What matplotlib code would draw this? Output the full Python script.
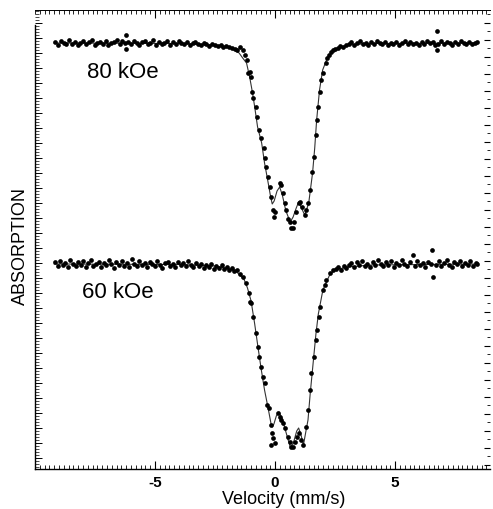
import matplotlib
matplotlib.use("Agg")
import matplotlib.pyplot as plt
from matplotlib.ticker import MultipleLocator

plt.rcParams['font.family'] = ['Liberation Sans', 'DejaVu Sans']
plt.rcParams['axes.unicode_minus'] = False

# ---------------------------------------------------------------
# 80 kOe spectrum: measured points (velocity mm/s, rel. transmission)
# ---------------------------------------------------------------
v80 = [
    -9.15, -9.04, -8.92, -8.81, -8.69, -8.57, -8.46, -8.34, -8.22, -8.11,
    -7.99, -7.87, -7.76, -7.64, -7.52, -7.41, -7.29, -7.17, -7.06, -6.94,
    -6.82, -6.71, -6.59, -6.47, -6.36, -6.24, -6.19, -6.19, -6.12, -6.01,
    -5.89, -5.77, -5.66, -5.54, -5.42, -5.31, -5.19, -5.07, -4.96, -4.84,
    -4.72, -4.61, -4.49, -4.37, -4.26, -4.14, -4.02, -3.91, -3.79, -3.67,
    -3.56, -3.44, -3.32, -3.21, -3.09, -2.97, -2.86, -2.74, -2.62, -2.51,
    -2.39, -2.27, -2.16, -2.04, -1.92, -1.81, -1.69, -1.58, -1.48, -1.35,
    -1.27, -1.19, -1.13, -1.06, -0.99, -0.95, -0.93, -0.81, -0.76, -0.68,
    -0.58, -0.48, -0.44, -0.37, -0.30, -0.23, -0.16, -0.09, -0.06, -0.02,
    0.19, 0.25, 0.33, 0.41, 0.47, 0.53, 0.63, 0.67, 0.73, 0.79,
    0.88, 0.99, 1.05, 1.13, 1.23, 1.30, 1.37, 1.44, 1.55, 1.60,
    1.69, 1.74, 1.80, 1.85, 1.93, 1.99, 2.10, 2.16, 2.23, 2.31,
    2.40, 2.48, 2.60, 2.72, 2.83, 2.95, 3.07, 3.18, 3.30, 3.42,
    3.53, 3.65, 3.77, 3.88, 4.00, 4.12, 4.23, 4.35, 4.47, 4.58,
    4.70, 4.82, 4.93, 5.05, 5.17, 5.28, 5.40, 5.52, 5.63, 5.75,
    5.87, 5.98, 6.10, 6.22, 6.33, 6.45, 6.57, 6.68, 6.73, 6.73,
    6.80, 6.92, 7.03, 7.15, 7.27, 7.38, 7.50, 7.62, 7.73, 7.85,
    7.97, 8.08, 8.20, 8.32, 8.40,
]
t80 = [
    1.001, 0.998, 1.002, 1.000, 0.999, 1.003, 0.999, 1.001, 0.998, 1.000,
    1.002, 0.999, 1.001, 1.003, 0.998, 1.000, 1.001, 0.999, 1.002, 0.998,
    1.000, 1.001, 1.003, 0.999, 1.002, 1.000, 1.008, 0.994, 1.001, 0.999,
    1.002, 1.000, 0.998, 1.001, 1.002, 0.999, 1.000, 1.003, 0.998, 1.001,
    0.999, 1.000, 1.002, 0.998, 1.001, 0.999, 1.002, 1.000, 0.999, 1.001,
    0.998, 1.000, 1.001, 0.999, 0.998, 1.000, 0.999, 0.997, 0.999, 0.998,
    0.997, 0.998, 0.996, 0.997, 0.996, 0.995, 0.994, 0.993, 0.996, 0.993,
    0.988, 0.983, 0.970, 0.971, 0.966, 0.951, 0.945, 0.936, 0.926, 0.913,
    0.905, 0.895, 0.885, 0.876, 0.866, 0.856, 0.846, 0.833, 0.826, 0.831,
    0.860, 0.858, 0.850, 0.840, 0.833, 0.824, 0.821, 0.815, 0.815, 0.821,
    0.831, 0.840, 0.841, 0.836, 0.828, 0.833, 0.840, 0.853, 0.871, 0.886,
    0.908, 0.923, 0.936, 0.951, 0.963, 0.970, 0.980, 0.985, 0.988, 0.991,
    0.993, 0.994, 0.995, 0.997, 0.996, 0.998, 0.999, 1.001, 0.998, 1.000,
    1.002, 0.999, 1.000, 0.998, 1.001, 0.999, 1.002, 1.000, 0.999, 1.001,
    0.998, 1.000, 0.999, 1.001, 0.998, 1.000, 1.002, 0.999, 1.001, 0.999,
    1.000, 0.998, 1.001, 0.999, 1.002, 1.000, 1.001, 0.998, 1.012, 0.993,
    0.999, 1.002, 0.999, 1.001, 1.000, 0.998, 1.001, 0.999, 1.002, 1.000,
    0.999, 1.001, 0.999, 1.000, 1.001,
]

# fitted curve, 80 kOe
fit80_v = [-9.20, -4.00, -2.50, -2.00, -1.70, -1.50, -1.35, -1.19, -1.06, -0.94,
           -0.85, -0.73, -0.56, -0.44, -0.31, -0.20, -0.12, -0.04, 0.08, 0.19,
           0.30, 0.45, 0.63, 0.75, 0.88, 0.98, 1.10, 1.23, 1.32, 1.40,
           1.48, 1.56, 1.65, 1.73, 1.85, 1.98, 2.19, 2.48, 2.98, 4.00, 8.45]
fit80_t = [1.000, 0.9995, 0.998, 0.996, 0.993, 0.990, 0.985, 0.980, 0.966, 0.950,
           0.936, 0.916, 0.900, 0.880, 0.863, 0.848, 0.839, 0.842, 0.852, 0.856,
           0.848, 0.832, 0.821, 0.826, 0.835, 0.841, 0.835, 0.828, 0.834, 0.840,
           0.855, 0.870, 0.895, 0.923, 0.953, 0.973, 0.986, 0.993, 0.998, 0.9995, 1.000]

# ---------------------------------------------------------------
# 60 kOe spectrum
# ---------------------------------------------------------------
v60 = [
    -9.15, -9.06, -8.95, -8.85, -8.74, -8.63, -8.53, -8.42, -8.31, -8.21,
    -8.10, -7.99, -7.89, -7.78, -7.67, -7.57, -7.46, -7.35, -7.25, -7.14,
    -7.03, -6.93, -6.82, -6.71, -6.61, -6.50, -6.39, -6.29, -6.18, -6.07,
    -5.97, -5.86, -5.75, -5.65, -5.54, -5.43, -5.33, -5.22, -5.11, -5.01,
    -4.90, -4.79, -4.69, -4.58, -4.47, -4.37, -4.26, -4.15, -4.05, -3.94,
    -3.83, -3.73, -3.62, -3.51, -3.41, -3.30, -3.19, -3.09, -2.98, -2.87,
    -2.77, -2.66, -2.55, -2.45, -2.34, -2.23, -2.13, -2.02, -1.91, -1.81,
    -1.70, -1.59, -1.48, -1.34, -1.20, -1.09, -1.03, -0.99, -0.93, -0.78,
    -0.72, -0.65, -0.58, -0.51, -0.44, -0.32, -0.26, -0.16, -0.12, -0.09,
    -0.02, -0.16, 0.12, 0.19, 0.26, 0.33, 0.40, 0.53, 0.60, 0.67,
    0.74, 0.81, 0.91, 0.99, 1.09, 1.16, 1.27, 1.37, 1.44, 1.51,
    1.60, 1.69, 1.74, 1.83, 1.88, 1.99, 2.06, 2.13, 2.27, 2.40,
    2.52, 2.63, 2.74, 2.85, 2.96, 3.07, 3.18, 3.29, 3.40, 3.51,
    3.62, 3.73, 3.84, 3.95, 4.06, 4.17, 4.28, 4.39, 4.50, 4.61,
    4.72, 4.83, 4.94, 5.05, 5.16, 5.27, 5.38, 5.49, 5.60, 5.73,
    5.82, 5.93, 6.04, 6.15, 6.26, 6.37, 6.48, 6.55, 6.58, 6.70,
    6.81, 6.92, 7.03, 7.14, 7.25, 7.36, 7.47, 7.58, 7.69, 7.80,
    7.91, 8.02, 8.13, 8.24, 8.35, 8.42,
]
t60 = [
    1.002, 0.998, 1.003, 0.999, 1.001, 0.997, 1.004, 1.000, 0.998, 1.002,
    0.999, 1.003, 0.997, 1.001, 1.004, 0.998, 1.000, 1.002, 0.997, 1.001,
    0.999, 1.004, 1.000, 0.996, 1.002, 0.999, 1.003, 0.998, 1.001, 0.997,
    1.005, 1.000, 0.998, 1.003, 0.999, 1.001, 0.997, 1.002, 1.000, 0.998,
    1.003, 0.999, 0.996, 1.001, 1.002, 0.998, 1.000, 0.997, 1.002, 0.999,
    1.001, 0.998, 1.003, 0.999, 0.997, 1.001, 0.998, 1.000, 0.996, 0.999,
    0.997, 1.000, 0.995, 0.998, 0.996, 0.999, 0.995, 0.997, 0.994, 0.996,
    0.993, 0.994, 0.990, 0.987, 0.981, 0.971, 0.962, 0.961, 0.947, 0.931,
    0.917, 0.907, 0.897, 0.887, 0.881, 0.859, 0.856, 0.839, 0.831, 0.826,
    0.821, 0.819, 0.851, 0.847, 0.844, 0.841, 0.836, 0.827, 0.822, 0.817,
    0.817, 0.822, 0.827, 0.831, 0.824, 0.819, 0.837, 0.854, 0.874, 0.891,
    0.907, 0.924, 0.934, 0.947, 0.957, 0.974, 0.979, 0.984, 0.991, 0.994,
    0.995, 0.997, 0.994, 0.998, 0.996, 0.999, 1.001, 0.997, 1.002, 0.999,
    1.003, 0.998, 1.000, 0.997, 1.002, 0.999, 1.004, 1.000, 0.998, 1.002,
    0.999, 1.003, 0.997, 1.001, 0.999, 1.004, 1.000, 0.998, 1.002, 1.009,
    0.998, 1.003, 0.999, 1.001, 0.997, 1.002, 1.000, 1.014, 0.987, 0.999,
    1.003, 0.998, 1.001, 1.004, 0.999, 0.997, 1.002, 1.000, 1.003, 0.998,
    1.001, 0.999, 1.003, 0.998, 1.001, 1.000,
]

fit60_v = [-9.20, -4.00, -2.50, -1.90, -1.60, -1.30, -1.15, -1.00, -0.85, -0.72,
           -0.58, -0.44, -0.30, -0.16, -0.12, -0.05, 0.05, 0.16, 0.30, 0.45,
           0.63, 0.75, 0.90, 0.98, 1.08, 1.18, 1.30, 1.37, 1.46, 1.58,
           1.70, 1.80, 1.99, 2.27, 2.48, 3.00, 4.00, 8.45]
fit60_t = [1.000, 0.9995, 0.998, 0.995, 0.992, 0.985, 0.976, 0.963, 0.940, 0.918,
           0.895, 0.874, 0.857, 0.839, 0.837, 0.840, 0.848, 0.852, 0.845, 0.832,
           0.817, 0.820, 0.833, 0.836, 0.829, 0.819, 0.835, 0.844, 0.870, 0.900,
           0.930, 0.950, 0.974, 0.989, 0.994, 0.997, 0.999, 1.000]

labels = ["80 kOe", "60 kOe"]
xtick_vals = [-5, 0, 5]
offset60 = 0.221  # vertical shift of the lower spectrum

# ---------------------------------------------------------------
fig = plt.figure(figsize=(4.93, 5.09), dpi=100)
ax = fig.add_axes([35/493, 40/509, 455/493, 459/509])

ax.plot(fit80_v, fit80_t, color='#333333', lw=0.8, zorder=2)
ax.plot(v80, t80, 'o', color='black', ms=3.4, mec='none', zorder=3)
ax.plot(fit60_v, [t - offset60 for t in fit60_t], color='#333333', lw=0.8, zorder=2)
ax.plot(v60, [t - offset60 for t in t60], 'o', color='black', ms=3.4, mec='none', zorder=3)

ax.text(-7.85, 0.971, labels[0], fontsize=16, va='center', ha='left')
ax.text(-8.06, 0.751, labels[1], fontsize=16, va='center', ha='left')

ax.set_xlim(-10.0, 8.95)
ax.set_ylim(0.574, 1.033)

ax.spines['right'].set_visible(False)
ax.spines['left'].set_bounds(0.574, 1.018)
ax.spines['top'].set_linewidth(0.7)
ax.spines['top'].set_linestyle((0, (4, 1)))
for s in ['left', 'bottom']:
    ax.spines[s].set_linewidth(1.0)

ax.set_xticks(xtick_vals)
ax.set_xticklabels([str(v) for v in xtick_vals], fontweight='bold')
ax.xaxis.set_minor_locator(MultipleLocator(0.2))
ax.tick_params(axis='x', which='major', direction='in', length=6, width=0.8,
               top=True, pad=5, labelsize=11)
ax.tick_params(axis='x', which='minor', direction='in', length=3, width=0.6, top=True)

ax.yaxis.set_major_locator(MultipleLocator(0.015))
ax.yaxis.set_minor_locator(MultipleLocator(0.003))
ax.tick_params(axis='y', which='major', direction='in', length=5, width=0.7, labelleft=False)
ax.tick_params(axis='y', which='minor', direction='in', length=3, width=0.5)

axr = ax.twinx()
axr.set_ylim(ax.get_ylim())
for s in axr.spines.values():
    s.set_visible(False)
axr.yaxis.set_major_locator(MultipleLocator(0.017))
axr.yaxis.set_minor_locator(MultipleLocator(0.0085))
axr.tick_params(axis='y', which='major', direction='in', length=4, width=0.8, labelright=False)
axr.tick_params(axis='y', which='minor', direction='in', length=2, width=0.6)

fig.text(283.5/493, 1 - 499/509, "Velocity (mm/s)", fontsize=13, ha='center', va='center')
fig.text(20/493, 1 - 246/509, "ABSORPTION", fontsize=13, rotation=90, ha='center', va='center')

fig.savefig("out.png", dpi=100)
